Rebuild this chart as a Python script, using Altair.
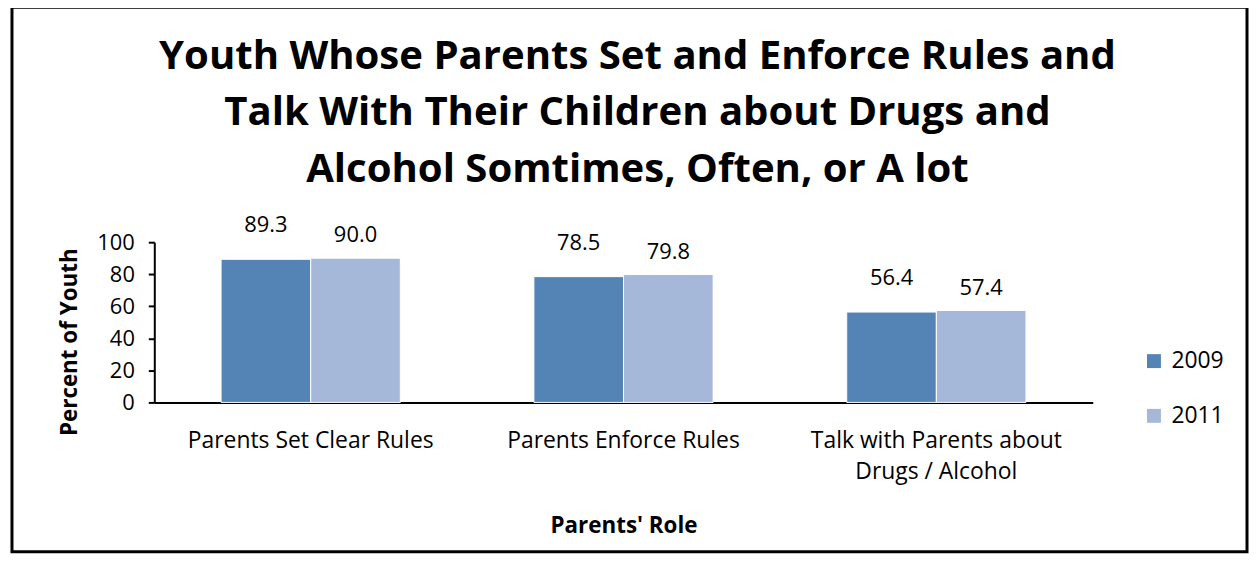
import altair as alt
import pandas as pd

roles = ["Parents Set Clear Rules", "Parents Enforce Rules", "Talk with Parents about|Drugs / Alcohol"]
years = ["2009", "2011"]
v2009 = [89.3, 78.5, 56.4]
v2011 = [90.0, 79.8, 57.4]
y_ticks = [0, 20, 40, 60, 80, 100]
colors = ["#5483B5", "#A5B8D9"]

rows = []
for r, a, b in zip(roles, v2009, v2011):
    rows.append({"role": r, "year": "2009", "value": a})
    rows.append({"role": r, "year": "2011", "value": b})
df = pd.DataFrame(rows)

FONT = "Open Sans"

base = alt.Chart(df)

x_enc = alt.X(
    "role:N", sort=roles,
    scale=alt.Scale(paddingInner=0.427, paddingOuter=0.2135),
    axis=alt.Axis(
        title="Parents' Role", labelAngle=0, ticks=False, labelLimit=0,
        labelExpr="split(datum.label, '|')",
        labelFontSize=23, labelFont=FONT, labelColor="black", labelPadding=27,
        labelLineHeight=31, domainColor="black", domainWidth=2,
        titleFont=FONT, titleFontSize=22.5, titleFontWeight="bold", titleColor="black",
        titleY=124, titleBaseline="middle",
    ),
)
y_enc = alt.Y(
    "value:Q", scale=alt.Scale(domain=[0, 100]),
    axis=alt.Axis(
        title="Percent of Youth", values=y_ticks, grid=False,
        labelOverlap=False,
        labelFontSize=22, labelFont=FONT, labelColor="black", labelPadding=14,
        tickSize=6, tickColor="black", tickWidth=2, domainColor="black", domainWidth=2,
        titleFont=FONT, titleFontSize=22.5, titleFontWeight="bold", titleColor="black",
        titleX=-85, titleY=100, titleAngle=270, titleAlign="center", titleBaseline="middle",
    ),
)
color_enc = alt.Color(
    "year:N", scale=alt.Scale(domain=years, range=colors),
    legend=alt.Legend(
        title=None, orient="none", legendX=993, legendY=108,
        symbolType="square", symbolSize=196, symbolStrokeWidth=0,
        labelFontSize=23, labelFont=FONT, labelColor="black", labelOffset=6,
        rowPadding=31, padding=0,
    ),
)
xo = alt.XOffset("year:N", sort=years)

bars = base.mark_bar(stroke="white", strokeWidth=1).encode(
    x=x_enc, xOffset=xo, y=y_enc, color=color_enc
)

lab09 = base.transform_filter(alt.datum.year == "2009").mark_text(
    dy=-34, fontSize=22, font=FONT, color="black", baseline="middle"
).encode(
    x=x_enc, xOffset=xo, y=y_enc, text=alt.Text("value:Q", format=".1f")
)
lab11 = base.transform_filter(alt.datum.year == "2011").mark_text(
    dy=-23, fontSize=22, font=FONT, color="black", baseline="middle"
).encode(
    x=x_enc, xOffset=xo, y=y_enc, text=alt.Text("value:Q", format=".1f")
)

frame = alt.Chart(pd.DataFrame({"f": [0]})).mark_rect(
    fill=None, stroke="black", strokeWidth=3
).encode(
    x=alt.value(-143), x2=alt.value(1098), y=alt.value(-236), y2=alt.value(311)
)

chart = alt.layer(bars, lab09, lab11, frame).properties(
    width=943, height=161,
    title=alt.Title(
        ["Youth Whose Parents Set and Enforce Rules and",
         "Talk With Their Children about Drugs and",
         "Alcohol Somtimes, Often, or A lot"],
        font=FONT, fontSize=40.3, fontWeight="bold", color="black",
        lineHeight=56.5, anchor="middle", dx=14, offset=-185,
    ),
    autosize=alt.AutoSizeParams(type="none"),
    padding={"left": 147, "top": 234, "right": 157, "bottom": 152},
).configure_view(stroke=None).configure_scale(
    offsetBandPaddingInner=0, offsetBandPaddingOuter=0
)

chart.save("out.html", embed_options={"renderer": "svg", "actions": False})
